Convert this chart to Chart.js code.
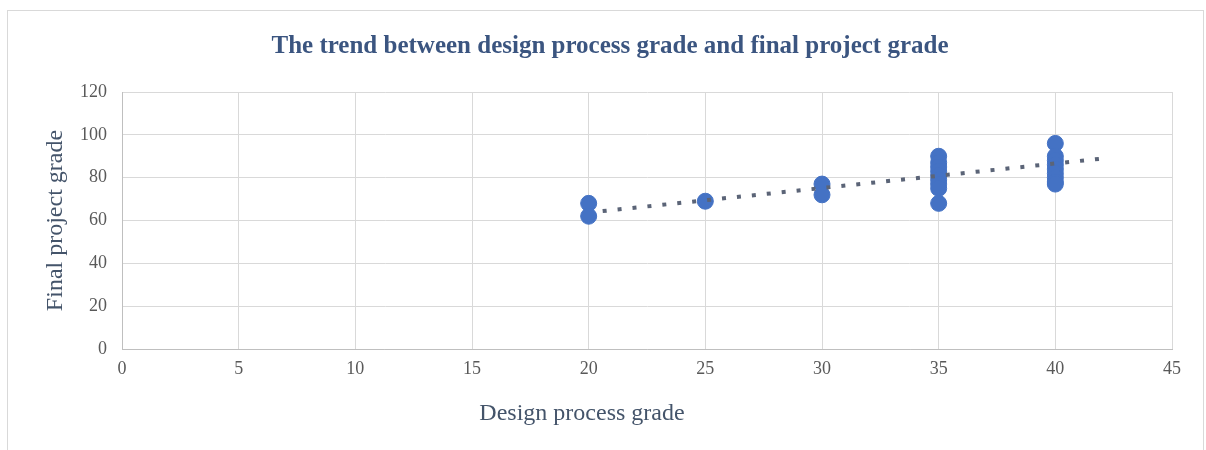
<!DOCTYPE html>
<html>
<head>
<meta charset="utf-8">
<script src="https://cdn.jsdelivr.net/npm/chart.js@4"></script>
<style>
  html, body { margin: 0; padding: 0; background: #ffffff; }
  #wrap { position: relative; width: 1206px; height: 450px; }
  #frame {
    position: absolute; left: 7px; top: 10px; width: 1197px; height: 445px;
    border: 1px solid #d9d9d9; box-sizing: border-box; pointer-events: none;
  }
</style>
</head>
<body>
<div id="wrap">
  <canvas id="chart" width="1206" height="450"></canvas>
  <div id="frame"></div>
</div>
<script>
// scatter values
const designGrade = [20, 20, 25, 30, 30, 35, 35, 35, 35, 35, 35, 35, 35, 35, 40, 40, 40, 40, 40, 40, 40, 40, 40];
const finalGrade  = [68, 62, 69, 77, 72, 90, 87, 85, 83, 81, 79, 77, 75, 68, 96, 90, 88, 86, 84, 82, 80, 78, 77];

// dotted trendline ends
const trendX = [20.6, 41.9];
const trendY = [64.4, 88.8];

const xTicks = [0, 5, 10, 15, 20, 25, 30, 35, 40, 45];
const yTicks = [0, 20, 40, 60, 80, 100, 120];

const chartTitle = 'The trend between design process grade and final project grade';
const xTitle = 'Design process grade';
const yTitle = 'Final project grade';

const serif = 'Liberation Serif, Times New Roman, serif';

const points = designGrade.map((x, i) => ({ x: x, y: finalGrade[i] }));
const trend = trendX.map((x, i) => ({ x: x, y: trendY[i] }));

// title and x axis title are not centred on the plot in the original
const textPlugin = {
  id: 'extraText',
  afterDraw(chart) {
    const ctx = chart.ctx;
    ctx.save();
    ctx.textAlign = 'center';
    ctx.textBaseline = 'middle';
    ctx.font = 'bold 25px ' + serif;
    ctx.fillStyle = '#3b5580';
    ctx.fillText(chartTitle, 610, 47);
    ctx.font = '24px ' + serif;
    ctx.fillStyle = '#44546a';
    ctx.fillText(xTitle, 582, 414);
    ctx.restore();
  }
};

new Chart(document.getElementById('chart'), {
  type: 'scatter',
  data: {
    datasets: [
      {
        label: yTitle,
        data: points,
        backgroundColor: '#4472c4',
        borderColor: '#4472c4',
        pointRadius: 8,
        pointHoverRadius: 8,
        order: 2
      },
      {
        label: 'Trend',
        type: 'line',
        data: trend,
        borderColor: '#5b6477',
        borderWidth: 4,
        borderDash: [4, 11],
        pointRadius: 0,
        fill: false,
        order: 1
      }
    ]
  },
  options: {
    responsive: false,
    animation: false,
    layout: { padding: { left: 0, right: 34, top: 92, bottom: 0 } },
    plugins: {
      legend: { display: false },
      tooltip: { enabled: false },
      title: { display: false }
    },
    scales: {
      x: {
        type: 'linear',
        min: 0,
        max: 45,
        afterFit: (scale) => { scale.height = 101; },
        afterBuildTicks: (scale) => { scale.ticks = xTicks.map(v => ({ value: v })); },
        grid: { color: '#d9d9d9', drawTicks: false },
        border: { color: '#bfbfbf' },
        ticks: {
          color: '#595959',
          font: { family: serif, size: 18 },
          padding: 9
        }
      },
      y: {
        type: 'linear',
        min: 0,
        max: 120,
        afterFit: (scale) => { scale.width = 122; },
        afterBuildTicks: (scale) => { scale.ticks = yTicks.map(v => ({ value: v })); },
        grid: { color: '#d9d9d9', drawTicks: false },
        border: { color: '#bfbfbf' },
        ticks: {
          color: '#595959',
          font: { family: serif, size: 18 },
          padding: 15
        },
        title: {
          display: true,
          text: yTitle,
          color: '#44546a',
          font: { family: serif, size: 24 },
          padding: { top: 41, bottom: 0 }
        }
      }
    }
  },
  plugins: [textPlugin]
});
</script>
</body>
</html>
